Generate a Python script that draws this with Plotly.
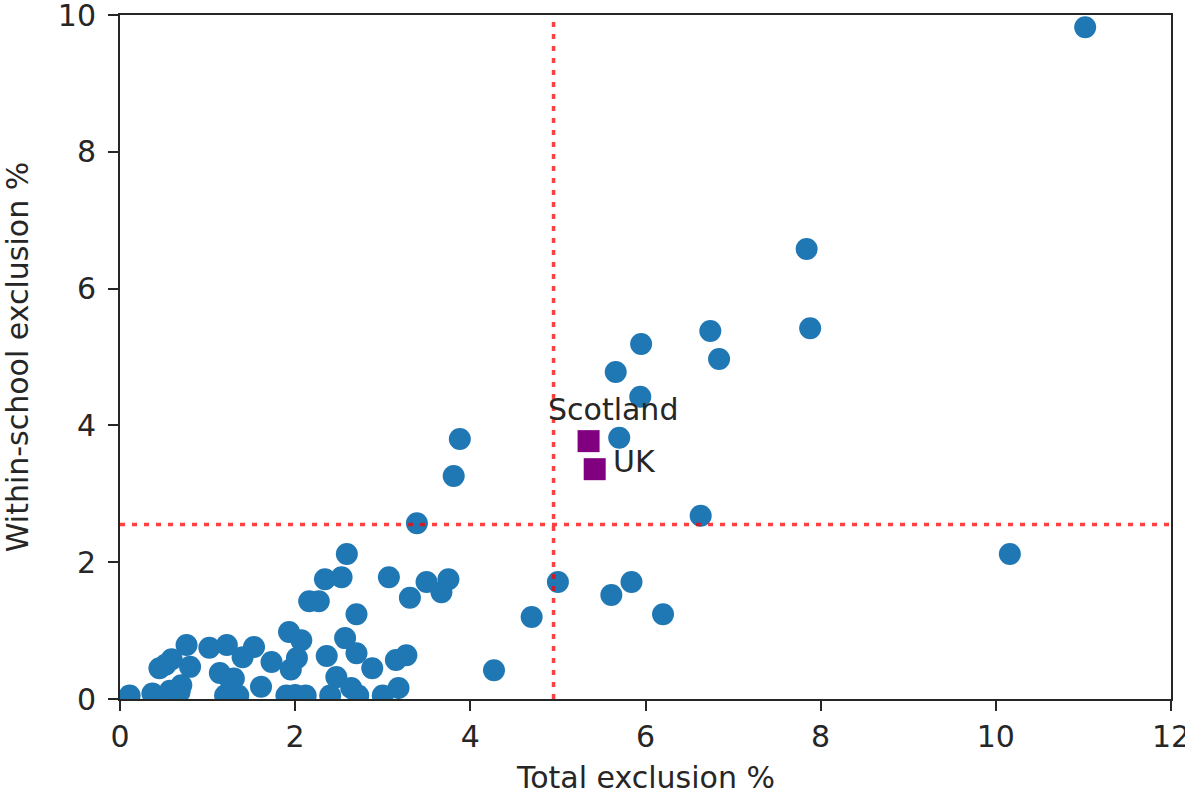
import plotly.graph_objects as go

total_excl = [11.02, 7.84, 7.88, 6.74, 6.84, 5.95, 5.66, 5.94, 3.88, 5.70, 3.81, 3.39, 6.63, 10.16,
              5.00, 5.61, 5.84, 6.20, 4.70, 4.27, 2.59, 3.07, 2.53, 2.34, 2.16, 2.27, 2.70, 3.31,
              3.50, 3.67, 3.75, 1.93, 2.07, 2.02, 1.95, 2.57, 2.36, 2.70, 2.88, 2.47, 2.64, 3.18,
              3.15, 3.27, 0.76, 0.45, 0.59, 0.80, 0.70, 0.57, 1.02, 1.22, 1.14, 1.27, 1.40, 1.53,
              1.73, 1.61, 0.11, 0.37, 0.62, 0.68, 1.20, 1.35, 1.90, 2.00, 2.12, 2.40, 2.72, 3.00,
              0.52, 1.30]
within_excl = [9.82, 6.58, 5.42, 5.38, 4.97, 5.19, 4.78, 4.42, 3.80, 3.82, 3.26, 2.57, 2.68, 2.12,
               1.71, 1.52, 1.71, 1.24, 1.20, 0.42, 2.12, 1.78, 1.78, 1.75, 1.43, 1.43, 1.24, 1.48,
               1.71, 1.56, 1.75, 0.98, 0.86, 0.60, 0.43, 0.89, 0.63, 0.67, 0.45, 0.32, 0.16, 0.16,
               0.57, 0.64, 0.79, 0.45, 0.58, 0.47, 0.20, 0.12, 0.75, 0.79, 0.38, 0.23, 0.61, 0.76,
               0.54, 0.18, 0.05, 0.08, 0.04, 0.10, 0.05, 0.05, 0.05, 0.06, 0.05, 0.05, 0.05, 0.05,
               0.50, 0.30]

ref_names = ["Scotland", "UK"]
ref_x = [5.35, 5.42]
ref_y = [3.77, 3.36]

mean_total = 4.95
mean_within = 2.55

x_title = "Total exclusion %"
y_title = "Within-school exclusion %"

FONT = "DejaVu Sans"
TXT = "#262626"
FS = 30

fig = go.Figure()
fig.add_trace(go.Scatter(x=total_excl, y=within_excl, mode="markers",
                         marker=dict(size=22, color="#1f77b4", line=dict(width=0)),
                         showlegend=False))
fig.add_trace(go.Scatter(x=ref_x, y=ref_y, mode="markers",
                         marker=dict(size=22, color="#800080", symbol="square", line=dict(width=0)),
                         showlegend=False))

fig.add_shape(type="line", xref="x", yref="paper", x0=mean_total, x1=mean_total, y0=0, y1=1,
              line=dict(color="rgba(255,0,0,0.75)", width=3.5, dash="5px,7px"))
fig.add_shape(type="line", xref="paper", yref="y", x0=0, x1=1, y0=mean_within, y1=mean_within,
              line=dict(color="rgba(255,0,0,0.75)", width=3.5, dash="5px,7px"))

fig.add_annotation(x=ref_x[0], y=ref_y[0], text=ref_names[0], showarrow=False,
                   xanchor="center", yanchor="middle", xshift=24, yshift=32,
                   font=dict(size=FS, color=TXT, family=FONT))
fig.add_annotation(x=ref_x[1], y=ref_y[1], text=ref_names[1], showarrow=False,
                   xanchor="left", yanchor="middle", xshift=16, yshift=8,
                   font=dict(size=FS, color=TXT, family=FONT))

# x-axis title placed as paper annotation so it can sit as low as in the reference
fig.add_annotation(x=0.5, y=0, xref="paper", yref="paper", text=x_title, showarrow=False,
                   xanchor="center", yanchor="middle", yshift=-78,
                   font=dict(size=FS, color=TXT, family=FONT))

axis_common = dict(showline=True, mirror=True, linecolor="#262626", linewidth=2,
                   ticks="outside", ticklen=10, tickwidth=2, tickcolor="#262626",
                   showgrid=False, zeroline=False, automargin=False,
                   ticklabeloverflow="allow",
                   tickfont=dict(size=FS, color=TXT, family=FONT))

fig.update_layout(
    width=1185, height=793,
    margin=dict(l=120, r=14, t=15, b=94, autoexpand=False),
    plot_bgcolor="white", paper_bgcolor="white",
    xaxis=dict(range=[0, 12], tickvals=[0, 2, 4, 6, 8, 10, 12], **axis_common),
    yaxis=dict(range=[0, 10], tickvals=[0, 2, 4, 6, 8, 10], ticklabelstandoff=6,
               title=dict(text=y_title, standoff=36,
                          font=dict(size=FS, color=TXT, family=FONT)),
               **axis_common),
)

fig.write_html("out.html", config={"displayModeBar": False},
               post_script="document.body.style.margin='0';document.body.style.overflow='hidden';")
